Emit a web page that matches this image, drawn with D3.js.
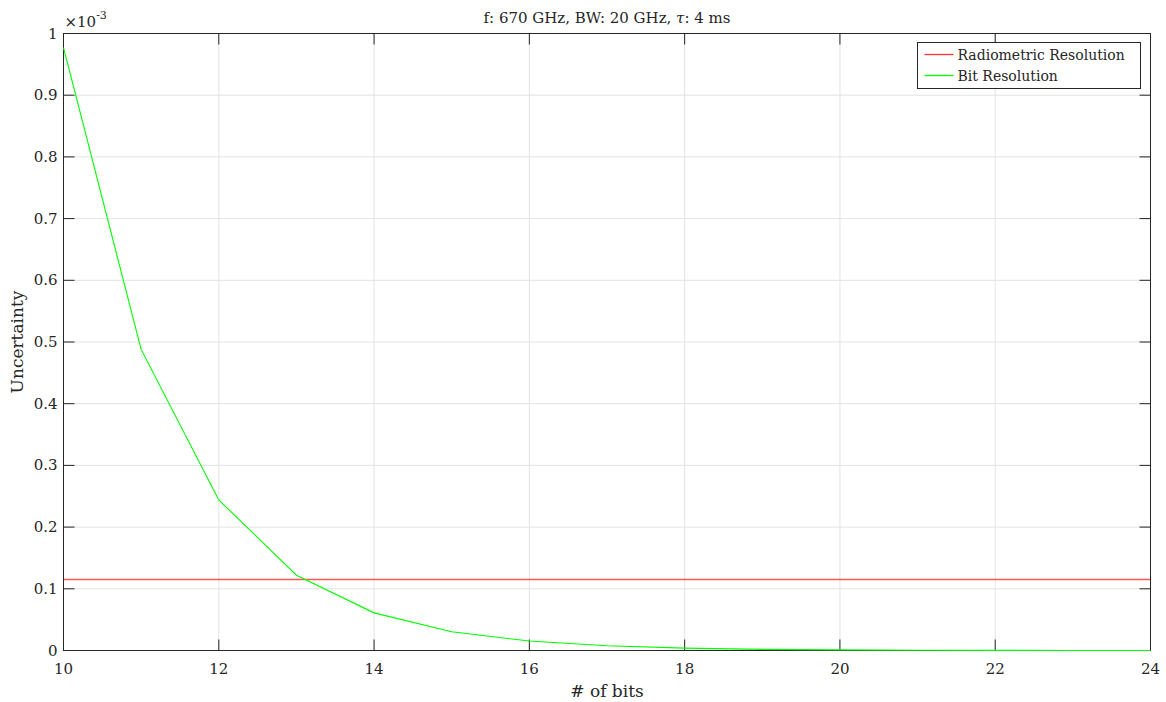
<!DOCTYPE html>
<html lang="en">
<head>
    <meta charset="UTF-8">
    <title>Uncertainty vs bits</title>
    <script src="https://d3js.org/d3.v7.min.js"></script>
</head>
<body style="margin:0;background:#fff">
<svg width="1166" height="702"></svg>
<style>
    text { font-family: "DejaVu Serif", serif; fill: #262626; }
    .grid line { stroke: #e3e3e3; stroke-width: 1px; }
    .frame { stroke: #262626; stroke-width: 1px; fill: none; }
</style>
<script>
    // data
    var bits = [10, 11, 12, 13, 14, 15, 16, 17, 18, 19, 20, 21, 22, 23, 24];
    var bitResolution = [0.000977, 0.000488, 0.000244, 0.000122, 0.000061, 0.0000305, 0.0000153,
        0.0000076, 0.0000038, 0.0000019, 0.00000095, 0.00000048, 0.00000024, 0.00000012, 0.00000006];
    var radiometric = 0.000115;
    var xTicks = [10, 12, 14, 16, 18, 20, 22, 24];
    var yTicks = [0, 0.0001, 0.0002, 0.0003, 0.0004, 0.0005, 0.0006, 0.0007, 0.0008, 0.0009, 0.001];
    var yTickLabels = ["0", "0.1", "0.2", "0.3", "0.4", "0.5", "0.6", "0.7", "0.8", "0.9", "1"];
    var seriesNames = ["Radiometric Resolution", "Bit Resolution"];
    var seriesColors = ["#ff0000", "#00ff00"];

    var pLeft = 63.5, pRight = 1150.5, pTop = 33.5, pBottom = 650.5;
    var tickLen = 11;

    var x = d3.scaleLinear().domain([10, 24]).range([pLeft, pRight]);
    var y = d3.scaleLinear().domain([0, 0.001]).range([pBottom, pTop]);

    var svg = d3.select("svg");

    // grid
    var grid = svg.append("g").attr("class", "grid");
    grid.selectAll("line.v").data(xTicks.slice(1, -1)).enter().append("line")
        .attr("x1", d => x(d)).attr("x2", d => x(d)).attr("y1", pTop).attr("y2", pBottom);
    grid.selectAll("line.h").data(yTicks.slice(1, -1)).enter().append("line")
        .attr("y1", d => y(d)).attr("y2", d => y(d)).attr("x1", pLeft).attr("x2", pRight);

    // radiometric level
    svg.append("line")
        .attr("x1", x(10)).attr("x2", x(24))
        .attr("y1", y(radiometric)).attr("y2", y(radiometric))
        .style("stroke", seriesColors[0]).style("stroke-width", 1.6).style("opacity", 0.65);

    // axes box with inward ticks
    svg.append("rect").attr("class", "frame")
        .attr("x", pLeft).attr("y", pTop).attr("width", pRight - pLeft).attr("height", pBottom - pTop);

    var ticks = svg.append("g").style("stroke", "#262626").style("stroke-width", 1);
    xTicks.forEach(function (t) {
        ticks.append("line").attr("x1", x(t)).attr("x2", x(t)).attr("y1", pBottom).attr("y2", pBottom - tickLen);
        ticks.append("line").attr("x1", x(t)).attr("x2", x(t)).attr("y1", pTop).attr("y2", pTop + tickLen);
    });
    yTicks.forEach(function (t) {
        ticks.append("line").attr("y1", y(t)).attr("y2", y(t)).attr("x1", pLeft).attr("x2", pLeft + tickLen);
        ticks.append("line").attr("y1", y(t)).attr("y2", y(t)).attr("x1", pRight).attr("x2", pRight - tickLen);
    });

    // bit resolution curve (drawn over the frame, as in the original)
    var line = d3.line().x((d, i) => x(bits[i])).y(d => y(d));
    svg.append("path")
        .datum(bitResolution)
        .attr("d", line)
        .style("fill", "none")
        .style("stroke", seriesColors[1])
        .style("stroke-width", 1.1);

    // tick labels
    svg.append("g").selectAll("text").data(xTicks).enter().append("text")
        .attr("x", d => x(d)).attr("y", pBottom + 23)
        .style("text-anchor", "middle").style("font-size", "15px")
        .text(d => d);
    svg.append("g").selectAll("text").data(yTicks).enter().append("text")
        .attr("x", pLeft - 6).attr("y", d => y(d) + 5)
        .style("text-anchor", "end").style("font-size", "15px")
        .text((d, i) => yTickLabels[i]);

    // exponent
    var expo = svg.append("text").attr("x", pLeft + 1).attr("y", 27).style("font-size", "15px");
    expo.append("tspan").text("\u00d710");
    expo.append("tspan").attr("dy", -8).style("font-size", "11px").text("-3");

    // labels
    svg.append("text").attr("x", (pLeft + pRight) / 2).attr("y", 23)
        .style("text-anchor", "middle").style("font-size", "15px")
        .html('f: 670 GHz, BW: 20 GHz, <tspan font-style="italic">\u03c4</tspan>: 4 ms');
    svg.append("text").attr("x", (pLeft + pRight) / 2).attr("y", 697)
        .style("text-anchor", "middle").style("font-size", "17px")
        .text("# of bits");
    svg.append("text")
        .attr("transform", "translate(23," + ((pTop + pBottom) / 2) + ") rotate(-90)")
        .style("text-anchor", "middle").style("font-size", "17px")
        .text("Uncertainty");

    // legend
    var legend = svg.append("g").attr("transform", "translate(917.5,42.5)");
    legend.append("rect").attr("width", 223).attr("height", 46)
        .style("fill", "#fff").style("stroke", "#262626").style("stroke-width", 1);
    seriesNames.forEach(function (name, i) {
        var yy = 12 + i * 21;
        legend.append("line").attr("x1", 7).attr("x2", 36).attr("y1", yy).attr("y2", yy)
            .style("stroke", seriesColors[i]).style("stroke-width", 1.3)
            .style("opacity", i === 0 ? 0.8 : 1);
        legend.append("text").attr("x", 40).attr("y", yy + 5)
            .style("font-size", "14px").text(name);
    });
</script>
</body>
</html>
